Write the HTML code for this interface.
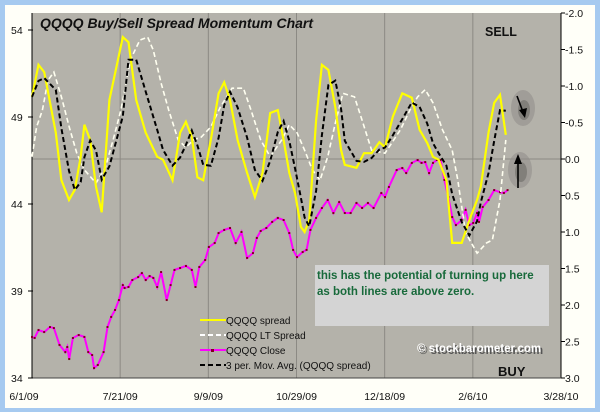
<!DOCTYPE html>
<html><head><meta charset="utf-8"><style>
html,body{margin:0;padding:0;background:#a6caf0;}
svg{display:block;font-family:"Liberation Sans",sans-serif;}
</style></head><body>
<svg id="chart" width="600" height="412" viewBox="0 0 600 412" xmlns="http://www.w3.org/2000/svg">
<rect x="0" y="0" width="600" height="412" fill="#a6caf0"/>
<rect x="5" y="5" width="590" height="403" fill="#fffff8"/>
<rect x="32" y="13" width="529" height="365" fill="#b4b2aa"/>
<g id="grid"></g>
<g id="axes"></g>
<g id="series"></g>
<text x="40" y="28" font-size="14" font-weight="bold" font-style="italic" fill="#111">QQQQ Buy/Sell Spread Momentum Chart</text>
<text x="485" y="36" font-size="12.5" font-weight="bold" fill="#111">SELL</text>
<text x="498" y="376" font-size="13" font-weight="bold" fill="#111">BUY</text>
<g>
<ellipse cx="523" cy="108" rx="12" ry="18" fill="#8f8d88" opacity="0.55"/>
<ellipse cx="524" cy="110" rx="6" ry="10" fill="#6c6a66" opacity="0.6"/>
<line x1="517" y1="96" x2="523" y2="112" stroke="#000" stroke-width="1.6"/>
<polygon points="519,110 527,108 525,118" fill="#000"/>
</g>
<g>
<ellipse cx="520" cy="170" rx="12" ry="18" fill="#8f8d88" opacity="0.55"/>
<ellipse cx="521" cy="172" rx="6" ry="10" fill="#6c6a66" opacity="0.6"/>
<line x1="518" y1="188" x2="518" y2="162" stroke="#000" stroke-width="1.6"/>
<polygon points="514,164 522,164 518,154" fill="#000"/>
</g>
<g>
<rect x="315" y="265" width="234" height="61" fill="#d4d4d4"/>
<text x="317" y="279" font-size="11.5" font-weight="bold" fill="#186a3b">this has the potential of turning up here</text>
<text x="317" y="295" font-size="11.5" font-weight="bold" fill="#186a3b">as both lines are above zero.</text>
</g>
<g font-size="11.5" font-weight="bold">
<text x="419" y="354" fill="#555">© stockbarometer.com</text>
<text x="417" y="352" fill="#fff">© stockbarometer.com</text>
</g>
<g font-size="10" fill="#111">
<g><line x1="200" y1="320" x2="226" y2="320" stroke="#ffff00" stroke-width="2"/><text x="226" y="324">QQQQ spread</text></g>
<g><line x1="200" y1="335" x2="226" y2="335" stroke="#fff" stroke-width="2" stroke-dasharray="5,3"/><text x="226" y="339">QQQQ LT Spread</text></g>
<g><line x1="200" y1="350" x2="226" y2="350" stroke="#ff00ff" stroke-width="2"/><rect x="211" y="349" width="3" height="3" fill="#800020"/><text x="226" y="354">QQQQ Close</text></g>
<g><line x1="200" y1="365" x2="226" y2="365" stroke="#000" stroke-width="2" stroke-dasharray="5,3"/><text x="226" y="369">3 per. Mov. Avg. (QQQQ spread)</text></g>
</g>
</svg>
<script>
const leftTicks = [34, 39, 44, 49, 54];
const rightTicks = [-2.0, -1.5, -1.0, -0.5, 0.0, 0.5, 1.0, 1.5, 2.0, 2.5, 3.0];
const dateLabels = ["6/1/09", "7/21/09", "9/9/09", "10/29/09", "12/18/09", "2/6/10", "3/28/10"];
const dateDays = [0, 50, 100, 150, 200, 250, 300];

const spreadDays = [0,3.7,6.9,13.5,16.7,21.0,24.3,27.6,29.7,33.0,36.3,39.5,43.9,51.5,54.7,59.1,64.5,71.0,74.3,79.7,84.0,87.3,90.6,93.8,97.1,101.4,105.8,109.0,112.3,116.6,122.0,126.4,130.7,135.1,139.4,142.7,145.9,149.2,152.5,154.6,157.2,161.1,164.4,168.1,172.0,175.3,177.4,184.0,188.3,192.6,197.0,200.2,204.6,210.0,215.4,219.8,224.1,227.4,230.6,235.0,238.3,243.7,248.0,252.4,254.5,258.9,262.1,265.4,268.7];
const spreadValues = [-0.85,-1.29,-1.19,-0.36,0.29,0.56,0.42,-0.03,-0.47,-0.26,0.38,0.73,-0.81,-1.67,-1.60,-0.81,-0.36,-0.03,0.01,0.29,-0.36,-0.51,-0.30,0.25,0.29,-0.26,-0.90,-1.05,-0.81,-0.26,0.19,0.52,0.19,-0.63,-0.67,-0.26,0.19,0.47,0.93,1.0,0.84,-0.53,-1.29,-1.22,-0.71,-0.12,0.08,0.12,-0.08,-0.08,-0.23,-0.16,-0.58,-0.90,-0.84,-0.40,-0.22,-0.03,0.01,0.29,1.15,1.15,0.84,0.56,0.38,-0.36,-0.77,-0.88,-0.33];

const ltDays = [0,2.6,5.9,9.1,12.4,16.7,21.1,25.4,29.7,36.3,41.7,46.0,50.4,55.8,61.2,65.6,68.8,73.2,77.5,82.9,87.3,91.6,96.0,101.4,106.8,113.4,119.9,124.2,129.7,135.1,141.6,145.9,150.3,154.6,159.0,163.3,167.7,172.0,176.3,182.9,187.2,192.6,200.2,208.9,214.3,218.7,223.0,227.4,232.8,238.3,241.5,245.9,252.4,257.8,261.1,263.2,265.4,268.7];
const ltValues = [-0.03,-0.44,-0.67,-1.08,-1.19,-0.85,-0.44,-0.08,0.15,0.33,0.11,-0.26,-0.67,-1.36,-1.63,-1.67,-1.49,-1.04,-0.67,-0.26,-0.16,-0.26,-0.30,-0.44,-0.71,-0.97,-0.97,-0.67,-0.26,-0.03,-0.26,-0.47,-0.36,-0.12,0.15,0.29,-0.03,-0.49,-0.90,-0.85,-0.53,-0.12,-0.08,-0.40,-0.67,-0.85,-0.95,-0.77,-0.40,-0.12,0.29,1.01,1.29,1.15,1.11,0.84,0.56,-0.26];

const closeDays = [0,1.5,3.7,6.9,10.2,12.4,15.6,18.9,20.0,21.1,23.2,26.5,29.7,31.9,34.1,35.2,37.3,40.6,42.8,44.9,47.1,49.3,51.5,52.5,54.7,56.9,60.2,62.3,64.5,66.7,68.8,71.0,73.2,76.4,78.6,80.8,84.0,87.3,90.6,92.7,94.9,98.2,100.3,103.6,105.8,109.0,112.3,115.5,118.8,122.0,125.3,127.5,129.7,132.9,136.2,139.4,142.7,145.9,148.1,150.3,153.5,155.7,157.9,161.1,164.4,167.7,170.9,174.2,177.4,180.7,184.0,187.2,190.5,193.7,198.1,200.2,202.4,206.8,210.0,212.2,215.4,218.7,220.9,223.0,225.2,227.4,229.6,231.7,233.9,236.1,238.3,240.4,243.7,245.9,248.0,250.2,252.4,253.5,255.6,258.9,262.1,265.4,267.6,269.7];
const closeValues = [36.36,36.30,36.76,36.64,36.93,36.87,35.90,35.49,35.78,35.09,36.30,36.47,36.36,35.49,35.32,34.57,34.75,35.49,36.93,37.51,37.91,38.48,39.34,39.17,39.23,39.63,39.80,40.03,39.63,39.86,39.75,39.23,40.09,38.48,39.34,40.21,40.32,40.44,40.21,39.23,40.38,40.78,41.53,41.76,42.33,42.51,42.62,41.76,42.39,40.90,41.18,42.05,42.45,42.62,42.97,43.20,43.08,42.33,41.36,40.95,41.24,41.36,42.51,43.20,43.77,44.23,43.48,44.11,43.48,43.48,44.06,43.77,44.06,43.77,44.63,44.40,44.98,45.95,46.07,45.78,46.36,46.53,46.36,46.41,45.78,46.36,46.53,46.53,45.38,44.40,43.25,42.79,43.08,43.66,42.79,42.91,43.48,42.97,43.83,44.23,44.80,44.68,44.63,44.80];

const NS = "http://www.w3.org/2000/svg";
const PL = 32, PR = 561, PT = 13, PB = 378;
function xScale(d) { return PL + (d / 300) * (PR - PL); }
function yLeft(v) { return PB - (v - 34) / 20 * (PB - 30); }
function yRight(v) { return PT + (v + 2) / 5 * (PB - PT); }
function mk(tag, attrs, parent) {
  const e = document.createElementNS(NS, tag);
  for (const k in attrs) e.setAttribute(k, attrs[k]);
  parent.appendChild(e);
  return e;
}
const grid = document.getElementById('grid');
const axes = document.getElementById('axes');
const series = document.getElementById('series');

dateDays.forEach((d, i) => {
  const x = xScale(d);
  if (i > 0 && i < dateDays.length - 1) {
    const g = mk('line', {x1: x, x2: x, y1: PT, y2: PB, stroke: '#8c8a84', 'stroke-width': 1}, grid);
    
    
  }
  const t = mk('text', {x: i === 0 ? x - 8 : x, y: 400, 'font-size': 10.5, 'text-anchor': 'middle', fill: '#111'}, axes);
  t.textContent = dateLabels[i];
  
  
});
const zl = mk('line', {x1: PL, x2: PR, y1: yRight(0), y2: yRight(0), stroke: '#8c8a84', 'stroke-width': 1}, grid);



const la = mk('line', {x1: PL, x2: PL, y1: PT, y2: PB, stroke: '#000', 'stroke-width': 1}, axes);


const ra = mk('line', {x1: PR, x2: PR, y1: PT, y2: PB, stroke: '#000', 'stroke-width': 1}, axes);


const ba = mk('line', {x1: PL, x2: PR, y1: PB, y2: PB, stroke: '#444', 'stroke-width': 1}, axes);



leftTicks.forEach(v => {
  const y = yLeft(v);
  mk('line', {x1: PL - 4, x2: PL + 1, y1: y, y2: y, stroke: '#000'}, axes);
  const t = mk('text', {x: 11, y: y + 4, 'font-size': 10.5, fill: '#111'}, axes);
  t.textContent = v;
  
  
});
rightTicks.forEach(v => {
  const y = yRight(v);
  mk('line', {x1: PR, x2: PR + 4, y1: y, y2: y, stroke: '#000'}, axes);
  const t = mk('text', {x: 565, y: y + 4, 'font-size': 10.5, fill: '#111'}, axes);
  t.textContent = v.toFixed(1);
  
  
});

function pathFor(days, vals, ys) {
  return days.map((d, i) => (i ? 'L' : 'M') + xScale(d).toFixed(1) + ' ' + ys(vals[i]).toFixed(1)).join(' ');
}
// 3-period moving average of the spread
const maValues = spreadValues.map((v, i) => {
  const s = spreadValues.slice(Math.max(0, i - 2), i + 1);
  return s.reduce((a, b) => a + b, 0) / s.length;
});

const cl = mk('path', {d: pathFor(closeDays, closeValues, yLeft), fill: 'none', stroke: '#ff00ff', 'stroke-width': 2}, series);


closeDays.forEach((d, i) => {
  const m = mk('rect', {x: xScale(d) - 1, y: yLeft(closeValues[i]) - 1, width: 2, height: 2, fill: '#800020'}, series);
  
  
});
const lt = mk('path', {d: pathFor(ltDays, ltValues, yRight), fill: 'none', stroke: '#fffff0', 'stroke-width': 1.6, 'stroke-dasharray': '5,3'}, series);


const sp = mk('path', {d: pathFor(spreadDays, spreadValues, yRight), fill: 'none', stroke: '#ffff00', 'stroke-width': 2.2}, series);


const ma = mk('path', {d: pathFor(spreadDays, maValues, yRight), fill: 'none', stroke: '#000', 'stroke-width': 2, 'stroke-dasharray': '5,3'}, series);


</script>
</body></html>
